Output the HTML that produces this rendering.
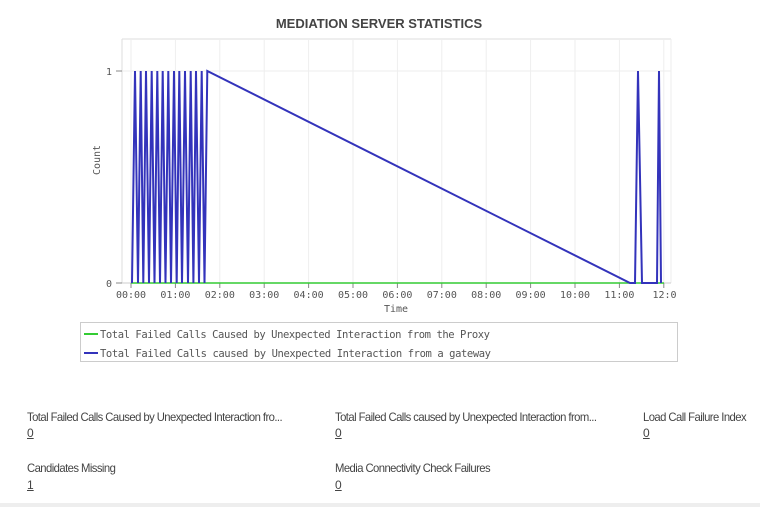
<!DOCTYPE html>
<html><head><meta charset="utf-8"><style>
body{margin:0;width:760px;height:507px;background:#fff;overflow:hidden;position:relative;font-family:"Liberation Sans",sans-serif}
.s{position:absolute;font-family:"Liberation Sans",sans-serif;font-size:12px;color:#444;letter-spacing:-0.6px;white-space:nowrap;transform:scaleX(0.94);transform-origin:0 0}
.v{position:absolute;font-size:12px;color:#444;text-decoration:underline;font-family:"Liberation Sans",sans-serif}
</style></head><body>
<svg width="760" height="507" style="position:absolute;left:0;top:0">
<text x="379" y="28" text-anchor="middle" font-family="Liberation Sans" font-weight="bold" font-size="13" fill="#444">MEDIATION SERVER STATISTICS</text>
<line x1="122" y1="39" x2="671" y2="39" stroke="#ddd"/>
<line x1="671" y1="39" x2="671" y2="283" stroke="#eee"/>
<g stroke="#eee">
<line x1="131" y1="39" x2="131" y2="283"/><line x1="175.4" y1="39" x2="175.4" y2="283"/><line x1="219.8" y1="39" x2="219.8" y2="283"/><line x1="264.2" y1="39" x2="264.2" y2="283"/><line x1="308.6" y1="39" x2="308.6" y2="283"/><line x1="353" y1="39" x2="353" y2="283"/><line x1="397.4" y1="39" x2="397.4" y2="283"/><line x1="441.8" y1="39" x2="441.8" y2="283"/><line x1="486.2" y1="39" x2="486.2" y2="283"/><line x1="530.6" y1="39" x2="530.6" y2="283"/><line x1="575" y1="39" x2="575" y2="283"/><line x1="619.4" y1="39" x2="619.4" y2="283"/><line x1="663.8" y1="39" x2="663.8" y2="283"/>
<line x1="122" y1="71" x2="671" y2="71"/>
</g>
<line x1="122" y1="39" x2="122" y2="283" stroke="#ddd"/>
<line x1="122" y1="283" x2="671" y2="283" stroke="#ccc"/>
<g stroke="#888"><line x1="116" y1="71" x2="122" y2="71"/><line x1="116" y1="283" x2="122" y2="283"/>
<line x1="131" y1="283" x2="131" y2="288"/><line x1="175.4" y1="283" x2="175.4" y2="288"/><line x1="219.8" y1="283" x2="219.8" y2="288"/><line x1="264.2" y1="283" x2="264.2" y2="288"/><line x1="308.6" y1="283" x2="308.6" y2="288"/><line x1="353" y1="283" x2="353" y2="288"/><line x1="397.4" y1="283" x2="397.4" y2="288"/><line x1="441.8" y1="283" x2="441.8" y2="288"/><line x1="486.2" y1="283" x2="486.2" y2="288"/><line x1="530.6" y1="283" x2="530.6" y2="288"/><line x1="575" y1="283" x2="575" y2="288"/><line x1="619.4" y1="283" x2="619.4" y2="288"/><line x1="663.8" y1="283" x2="663.8" y2="288"/></g>
<g font-family="DejaVu Sans Mono,Liberation Mono,monospace" font-size="10" fill="#555">
<text x="112" y="75" text-anchor="end">1</text><text x="112" y="287" text-anchor="end">0</text>
<g text-anchor="middle">
<text x="131" y="298">00:00</text><text x="175.4" y="298">01:00</text><text x="219.8" y="298">02:00</text><text x="264.2" y="298">03:00</text><text x="308.6" y="298">04:00</text><text x="353" y="298">05:00</text><text x="397.4" y="298">06:00</text><text x="441.8" y="298">07:00</text><text x="486.2" y="298">08:00</text><text x="530.6" y="298">09:00</text><text x="575" y="298">10:00</text><text x="619.4" y="298">11:00</text><text x="664.5" y="298">12:0</text>
</g>
<text x="396" y="312" text-anchor="middle">Time</text>
<text transform="translate(100,160) rotate(-90)" text-anchor="middle">Count</text>
</g>
<line x1="131" y1="283" x2="664" y2="283" stroke="#3c3" stroke-width="1.5"/>
<polyline fill="none" stroke="#33b" stroke-width="2" points="132,283 135,71 138,283 140.7,71 143.3,283 146,71 149,283 151.7,71 154.5,283 157.3,71 160,283 162.7,71 165.5,283 168.3,71 171,283 174,71 176.7,283 179.3,71 182,283 185,71 188,283 190.7,71 193.4,283 196,71 199,283 201.7,71 204.5,283 207.3,71 630,283 635,283 638,71 642,283 657,283 659,71 661,283"/>
<rect x="80.5" y="322.5" width="597" height="39" fill="none" stroke="#ccc"/>
<line x1="84" y1="334" x2="98" y2="334" stroke="#3c3" stroke-width="2"/>
<line x1="84" y1="353" x2="98" y2="353" stroke="#33b" stroke-width="2"/>
<g font-family="DejaVu Sans Mono,Liberation Mono,monospace" font-size="10.5" fill="#555">
<text x="100" y="338" textLength="390">Total Failed Calls Caused by Unexpected Interaction from the Proxy</text>
<text x="100" y="357" textLength="391">Total Failed Calls caused by Unexpected Interaction from a gateway</text>
</g>
<rect x="0" y="503" width="760" height="4" fill="#eee"/>
</svg>
<div class="s" style="left:27px;top:410px">Total Failed Calls Caused by Unexpected Interaction fro...</div>
<div class="v" style="left:27px;top:426px">0</div>
<div class="s" style="left:335px;top:410px">Total Failed Calls caused by Unexpected Interaction from...</div>
<div class="v" style="left:335px;top:426px">0</div>
<div class="s" style="left:643px;top:410px">Load Call Failure Index</div>
<div class="v" style="left:643px;top:426px">0</div>
<div class="s" style="left:27px;top:461px">Candidates Missing</div>
<div class="v" style="left:27px;top:478px">1</div>
<div class="s" style="left:335px;top:461px">Media Connectivity Check Failures</div>
<div class="v" style="left:335px;top:478px">0</div>
</body></html>
